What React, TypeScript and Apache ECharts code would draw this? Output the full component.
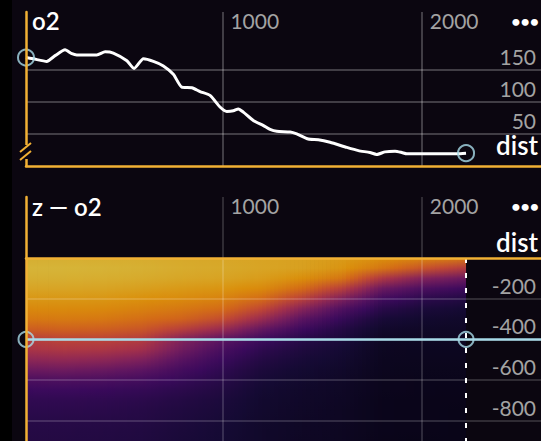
import React, { useEffect, useRef } from "react";
import * as echarts from "echarts";

// ---- data ----
const lineDist = [15, 52, 119, 161, 211, 245, 270, 370, 412, 453, 521, 557, 604, 654, 704, 754, 796, 847, 888, 938, 988, 1022, 1055, 1080, 1105, 1155, 1206, 1239, 1273, 1340, 1373, 1431, 1481, 1540, 1624, 1682, 1740, 1774, 1816, 1866, 1900, 1925, 2176, 2222];
const lineO2 = [169, 167, 163, 172, 181, 175, 173, 173, 178, 176, 164, 152, 167, 163, 156, 143, 123, 122, 116, 110, 92, 85, 86, 89, 84, 71, 63, 57, 54, 53, 50, 42, 41, 37, 29, 24, 21, 18, 22, 23, 21, 19, 19, 20];

const topYTicks = [50, 100, 150];
const xTicks = [1000, 2000];
const bottomYTicks = [-200, -400, -600, -800];
const sectionDepth = -400;

const heatDist = [15, 200, 400, 600, 800, 1000, 1200, 1400, 1600, 1800, 2000, 2222];
const heatDepth = [0, -50, -100, -150, -200, -250, -300, -350, -400, -450, -500, -550, -600, -650, -700, -750, -800, -850, -900];
const o2At15 = [262, 266, 262, 255, 246, 235, 222, 200, 168, 155, 130, 102, 75, 60, 52, 48, 45, 43, 42];
const o2At200 = [262, 266, 262, 255, 246, 236, 224, 204, 176, 160, 134, 105, 77, 61, 52, 48, 45, 43, 42];
const o2At400 = [261, 265, 261, 254, 245, 235, 222, 202, 175, 158, 130, 100, 74, 59, 51, 47, 44, 42, 41];
const o2At600 = [260, 263, 259, 251, 241, 229, 214, 194, 166, 148, 118, 90, 68, 55, 48, 44, 42, 40, 39];
const o2At800 = [258, 260, 256, 247, 236, 222, 205, 170, 121, 105, 85, 68, 56, 48, 42, 39, 37, 35, 34];
const o2At1000 = [256, 258, 254, 244, 230, 212, 185, 140, 89, 72, 60, 51, 45, 40, 36, 34, 32, 31, 30];
const o2At1200 = [254, 255, 249, 236, 212, 180, 140, 95, 62, 50, 42, 36, 32, 29, 27, 26, 25, 24, 24];
const o2At1400 = [252, 252, 240, 212, 172, 125, 88, 62, 45, 38, 33, 29, 26, 24, 23, 22, 21, 21, 20];
const o2At1600 = [248, 244, 220, 170, 118, 78, 56, 42, 35, 30, 27, 24, 22, 21, 20, 19, 19, 18, 18];
const o2At1800 = [240, 220, 160, 102, 66, 46, 33, 25, 20, 18, 17, 16, 15, 15, 14, 14, 14, 14, 13];
const o2At2000 = [232, 192, 122, 76, 49, 35, 27, 22, 19, 17, 16, 15, 14, 14, 13, 13, 13, 13, 12];
const o2At2222 = [222, 165, 102, 62, 41, 30, 24, 21, 19, 17, 16, 15, 14, 13, 13, 12, 12, 12, 12];
const o2Profiles = [o2At15, o2At200, o2At400, o2At600, o2At800, o2At1000, o2At1200, o2At1400, o2At1600, o2At1800, o2At2000, o2At2222];
const o2ColorMax = 300;

// ---- style ----
const BG = "#0b0610";
const YELLOW = "#f2b134";
const GRAY_TEXT = "#a3a3a3";
const CYAN = "#a8dbe8";
const FONT = "Lato";
const INFERNO = ["#000004", "#160b39", "#420a68", "#6a176e", "#932667", "#bc3754", "#dd513a", "#f37819", "#fca50a", "#f6d746", "#fcffa4"];
const HEAT_ALPHA = 0.86;

function hexToRgb(h: string) {
  return [parseInt(h.slice(1, 3), 16), parseInt(h.slice(3, 5), 16), parseInt(h.slice(5, 7), 16)];
}
const INFERNO_RGB = INFERNO.map(hexToRgb);
const BG_RGB = hexToRgb(BG);
function infernoColor(t: number) {
  const c = Math.max(0, Math.min(1, t)) * (INFERNO_RGB.length - 1);
  const i = Math.min(INFERNO_RGB.length - 2, Math.floor(c));
  const f = c - i;
  const a = INFERNO_RGB[i], b = INFERNO_RGB[i + 1];
  const ch = (k: number) => {
    const v = a[k] + (b[k] - a[k]) * f;
    return Math.round(v * HEAT_ALPHA + BG_RGB[k] * (1 - HEAT_ALPHA));
  };
  return `rgb(${ch(0)},${ch(1)},${ch(2)})`;
}

const SUB = 10;

export default function App() {
  const ref = useRef<HTMLDivElement>(null);
  useEffect(() => {
    if (!ref.current) return;
    const chart = echarts.init(ref.current, null, { renderer: "svg" });
    const xMin = 15, xMax = 2598;
    const labelAxisCommon = {
      type: "value",
      min: xMin,
      max: xMax,
      position: "top",
      axisLine: { show: false, onZero: false },
      axisTick: { show: false },
      splitLine: { show: false },
      axisLabel: {
        inside: true,
        customValues: xTicks,
        formatter: (v: number) => String(v),
        color: GRAY_TEXT,
        fontSize: 21,
        fontFamily: FONT,
        align: "left",
        verticalAlign: "middle",
        margin: 8,
        padding: [0, 0, 0, 8],
      },
    };
    const yLabel = { inside: true, color: GRAY_TEXT, fontSize: 21, fontFamily: FONT, verticalAlign: "bottom", margin: 5, lineHeight: 21, padding: [0, 0, 3, 0] };
    const yellowAxisLine = { show: true, onZero: false, lineStyle: { color: YELLOW, width: 2.5 } };
    const option: any = {
      backgroundColor: BG,
      animation: false,
      textStyle: { fontFamily: FONT },
      grid: [
        { left: 26, right: 0, top: 12, height: 154 },
        { left: 26, right: 0, top: 197, bottom: 0 },
      ],
      xAxis: [
        { type: "value", gridIndex: 0, min: xMin, max: xMax, position: "bottom", z: 10, axisLine: yellowAxisLine, axisTick: { show: false }, axisLabel: { show: false }, splitLine: { show: false } },
        { ...labelAxisCommon, gridIndex: 0 },
        { type: "value", gridIndex: 1, min: xMin, max: xMax, position: "bottom", z: 10, axisLine: { show: true, onZero: true, lineStyle: { color: YELLOW, width: 2.5 } }, axisTick: { show: false }, axisLabel: { show: false }, splitLine: { show: false } },
        { ...labelAxisCommon, gridIndex: 1 },
      ],
      yAxis: [
        { type: "value", gridIndex: 0, min: 0, max: 240, position: "left", z: 10, axisLine: yellowAxisLine, axisTick: { show: false }, axisLabel: { show: false }, splitLine: { show: false } },
        {
          type: "value", gridIndex: 0, min: 0, max: 240, position: "right",
          axisLine: { show: false, onZero: false }, axisTick: { show: false }, splitLine: { show: false },
          axisLabel: { ...yLabel, customValues: topYTicks },
        },
        { type: "value", gridIndex: 1, min: -900, max: 300, position: "left", z: 10, axisLine: yellowAxisLine, axisTick: { show: false }, axisLabel: { show: false }, splitLine: { show: false } },
        {
          type: "value", gridIndex: 1, min: -900, max: 300, position: "right",
          axisLine: { show: false, onZero: false }, axisTick: { show: false }, splitLine: { show: false },
          axisLabel: { ...yLabel, customValues: bottomYTicks },
        },
      ],
      series: [
        // top panel grid lines
        {
          type: "line", xAxisIndex: 0, yAxisIndex: 0, data: [], z: 1, silent: true,
          markLine: {
            silent: true, symbol: "none", label: { show: false },
            lineStyle: { color: "rgba(255,255,255,0.3)", width: 1.5, type: "solid" },
            data: [...topYTicks.map((v) => ({ yAxis: v })), ...xTicks.map((v) => ({ xAxis: v }))],
          },
        },
        {
          type: "line", xAxisIndex: 0, yAxisIndex: 0, z: 3, smooth: 0.2, showSymbol: false,
          lineStyle: { color: "#ffffff", width: 3 },
          data: lineDist.map((d, i) => [d, lineO2[i]]),
        },
        {
          type: "scatter", xAxisIndex: 0, yAxisIndex: 0, z: 4, symbolSize: 16,
          itemStyle: { color: "rgba(0,0,0,0)", borderColor: CYAN, borderWidth: 2 },
          data: [[lineDist[0], lineO2[0]], [lineDist[lineDist.length - 1], lineO2[lineO2.length - 1]]],
        },
        // bottom heatmap
        {
          type: "custom", xAxisIndex: 2, yAxisIndex: 2, z: 2, silent: true,
          data: heatDist.slice(0, -1).map((d, j) => [j, d]),
          renderItem: (params: any, api: any) => {
            const j = api.value(0) as number;
            const d0 = heatDist[j], d1 = heatDist[j + 1];
            const p0 = o2Profiles[j], p1 = o2Profiles[j + 1];
            const top = api.coord([d0, heatDepth[0]])[1];
            const bottom = api.coord([d0, heatDepth[heatDepth.length - 1]])[1];
            const children: any[] = [];
            for (let s = 0; s < SUB; s++) {
              const f = (s + 0.5) / SUB;
              const xa = api.coord([d0 + (d1 - d0) * (s / SUB), 0])[0];
              const xb = api.coord([d0 + (d1 - d0) * ((s + 1) / SUB), 0])[0];
              const stops = heatDepth.map((z, k) => ({
                offset: (api.coord([d0, z])[1] - top) / (bottom - top),
                color: infernoColor((p0[k] * (1 - f) + p1[k] * f) / o2ColorMax),
              }));
              const last = j === heatDist.length - 2 && s === SUB - 1;
              children.push({
                type: "rect",
                shape: { x: xa, y: top, width: xb - xa + (last ? 0 : 0.8), height: bottom - top },
                style: { fill: { type: "linear", x: 0, y: 0, x2: 0, y2: 1, colorStops: stops } },
              });
            }
            return { type: "group", children };
          },
        },
        // bottom grid lines, overlay
        {
          type: "line", xAxisIndex: 2, yAxisIndex: 2, data: [], z: 3, silent: true,
          markLine: {
            silent: true, symbol: "none", label: { show: false },
            lineStyle: { color: "rgba(255,255,255,0.2)", width: 1.5, type: "solid" },
            data: [...bottomYTicks.map((v) => ({ yAxis: v })), ...xTicks.map((v) => ({ xAxis: v }))],
          },
        },
        // section line, end dashed line and circles
        {
          type: "scatter", xAxisIndex: 2, yAxisIndex: 2, z: 5, symbolSize: 15,
          itemStyle: { color: "rgba(0,0,0,0)", borderColor: CYAN, borderWidth: 2 },
          data: [[heatDist[0], sectionDepth], [heatDist[heatDist.length - 1], sectionDepth]],
          markLine: {
            silent: true, symbol: "none", label: { show: false },
            data: [
              { yAxis: sectionDepth, lineStyle: { color: CYAN, width: 2.5, type: "solid" } },
              [
                { coord: [heatDist[heatDist.length - 1], heatDepth[0]], lineStyle: { color: "#ffffff", width: 2, type: [5, 10] } },
                { coord: [heatDist[heatDist.length - 1], -900] },
              ],
            ],
          },
        },
      ],
      graphic: [
        { type: "rect", shape: { x: 0, y: 0, width: 12, height: 441 }, style: { fill: "#000000" }, z: 0 },
        // axis break marker
        { type: "rect", shape: { x: 22, y: 145, width: 8, height: 14 }, style: { fill: BG }, z: 100 },
        { type: "line", shape: { x1: 20, y1: 152, x2: 31, y2: 143 }, style: { stroke: YELLOW, lineWidth: 2 }, z: 101 },
        { type: "line", shape: { x1: 20, y1: 160, x2: 31, y2: 151 }, style: { stroke: YELLOW, lineWidth: 2 }, z: 101 },
        { type: "text", x: 32, y: 32, style: { text: "o2", fill: "#ffffff", font: `600 24px ${FONT}`, verticalAlign: "bottom" }, z: 100 },
        { type: "text", x: 32, y: 218, style: { text: "z \u2014 o2", fill: "#ffffff", font: `600 24px ${FONT}`, verticalAlign: "bottom" }, z: 100 },
        { type: "text", x: 538, y: 157, style: { text: "dist", fill: "#ffffff", font: `600 26px ${FONT}`, align: "right", verticalAlign: "bottom", lineHeight: 24 }, z: 100 },
        { type: "text", x: 538, y: 254, style: { text: "dist", fill: "#ffffff", font: `600 26px ${FONT}`, align: "right", verticalAlign: "bottom", lineHeight: 24 }, z: 100 },
        { type: "text", x: 539, y: 20, style: { text: "\u2022\u2022\u2022", fill: "#ffffff", font: `700 16px ${FONT}`, align: "right", verticalAlign: "middle" }, z: 100 },
        { type: "text", x: 539, y: 205, style: { text: "\u2022\u2022\u2022", fill: "#ffffff", font: `700 16px ${FONT}`, align: "right", verticalAlign: "middle" }, z: 100 },
      ],
    };
    chart.setOption(option);
    return () => chart.dispose();
  }, []);
  return <div ref={ref} style={{ position: "fixed", left: 0, top: 0, width: 541, height: 441, background: BG }} />;
}
